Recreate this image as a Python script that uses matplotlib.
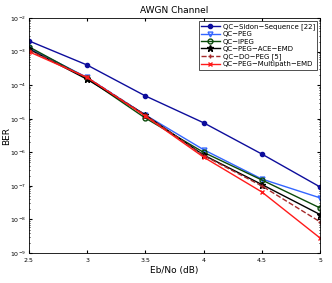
import matplotlib
matplotlib.use('Agg')
import matplotlib.pyplot as plt

# Eb/No values (dB)
ebno = [2.5, 3, 3.5, 4, 4.5, 5]

# BER curves
sidon = [2.1e-3, 4.0e-4, 4.8e-5, 7.6e-6, 8.9e-7, 9.3e-8]
peg = [1.3e-3, 1.7e-4, 1.3e-5, 1.2e-6, 1.6e-7, 4.4e-8]
ipeg = [1.4e-3, 1.6e-4, 1.05e-5, 1.0e-6, 1.5e-7, 2.2e-8]
ace_emd = [1.2e-3, 1.5e-4, 1.3e-5, 8.3e-7, 1.1e-7, 1.4e-8]
do_peg = [1.1e-3, 1.7e-4, 1.3e-5, 8.0e-7, 1.0e-7, 8.5e-9]
multipath = [1.0e-3, 1.7e-4, 1.2e-5, 7.2e-7, 6.6e-8, 2.8e-9]

labels = ['QC\u2212Sidon\u2212Sequence [22]', 'QC\u2212PEG', 'QC\u2212IPEG',
          'QC\u2212PEG\u2212ACE\u2212EMD', 'QC\u2212DO\u2212PEG [5]',
          'QC\u2212PEG\u2212Multipath\u2212EMD']

fig = plt.figure(figsize=(3.32, 2.83), dpi=100)
ax = fig.add_axes([0.087, 0.106, 0.877, 0.830])

ms = 3.5
ax.semilogy(ebno, sidon, '-o', color='#0d0d9c', lw=1.0, ms=3, label=labels[0])
ax.semilogy(ebno, peg, '-v', color='#3366ff', lw=1.0, ms=ms, mfc='none', label=labels[1])
ax.semilogy(ebno, ipeg, '-o', color='#0a4a0a', lw=1.0, ms=ms, mfc='none', mew=1.0, label=labels[2])
ax.semilogy(ebno, ace_emd, '-*', color='black', lw=1.0, ms=5, label=labels[3])
ax.semilogy(ebno, do_peg, '--+', color='#a52a2a', lw=1.0, ms=ms, label=labels[4])
ax.semilogy(ebno, multipath, '-x', color='#ff1a1a', lw=1.0, ms=ms, label=labels[5])

ax.set_xlim(2.5, 5)
ax.set_ylim(1e-9, 1e-2)
ax.set_xticks([2.5, 3, 3.5, 4, 4.5, 5])
ax.set_xticklabels(['2.5', '3', '3.5', '4', '4.5', '5'])
ax.tick_params(which='both', direction='in', top=True, right=True, labelsize=4.5, length=2, pad=2)
ax.tick_params(axis='x', pad=3.5)
ax.tick_params(which='minor', length=1)
for sp in ax.spines.values():
    sp.set_linewidth(0.6)

ax.set_title('AWGN Channel', fontsize=6.5, pad=4)
ax.set_xlabel('Eb/No (dB)', fontsize=6.5, labelpad=2)
ax.set_ylabel('BER', fontsize=6.5)
ax.yaxis.set_label_coords(-0.06, 0.5)

leg = ax.legend(loc='upper right', fontsize=5, frameon=True, fancybox=False,
                edgecolor='black', borderpad=0.3, labelspacing=0.2,
                handlelength=2.8, handletextpad=0.4, borderaxespad=0.4)
leg.get_frame().set_linewidth(0.6)

fig.savefig('out.png', dpi=100)
